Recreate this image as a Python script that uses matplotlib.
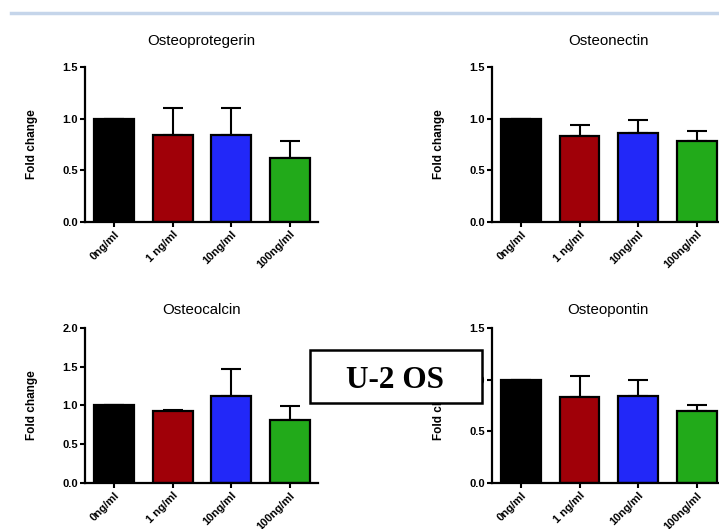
import matplotlib
matplotlib.use("Agg")
import matplotlib.pyplot as plt
from matplotlib.patches import Rectangle
from matplotlib.lines import Line2D

plt.rcParams['font.family'] = ['Liberation Sans', 'DejaVu Sans']

categories = ["0ng/ml", "1 ng/ml", "10ng/ml", "100ng/ml"]
colors = ["#000000", "#a00008", "#2228f8", "#22aa1a"]

titles = ["Osteoprotegerin", "Osteonectin", "Osteocalcin", "Osteopontin"]
opg_mean = [1.00, 0.84, 0.84, 0.62]
opg_err = [0.00, 0.26, 0.26, 0.16]
on_mean = [1.00, 0.835, 0.86, 0.78]
on_err = [0.00, 0.105, 0.13, 0.10]
oc_mean = [1.00, 0.93, 1.12, 0.82]
oc_err = [0.00, 0.01, 0.35, 0.17]
op_mean = [1.00, 0.835, 0.84, 0.70]
op_err = [0.00, 0.195, 0.16, 0.055]
y_max = [1.5, 1.5, 2.0, 1.5]
y_ticks = [[0, 0.5, 1.0, 1.5], [0, 0.5, 1.0, 1.5], [0, 0.5, 1.0, 1.5, 2.0], [0, 0.5, 1.0, 1.5]]

means = [opg_mean, on_mean, oc_mean, op_mean]
errs = [opg_err, on_err, oc_err, op_err]

W, H = 719, 529
fig = plt.figure(figsize=(W / 100, H / 100), dpi=100)


def rect(left, top, width, height):
    return [left / W, 1 - (top + height) / H, width / W, height / H]


panel_rects = [
    rect(85, 67, 233, 155),
    rect(491.7, 67, 233, 155),
    rect(85, 327.7, 233, 155.6),
    rect(491.7, 327.7, 233, 155.6),
]
title_pads = [16, 16, 10, 10]

for i in range(4):
    ax = fig.add_axes(panel_rects[i])
    x = list(range(len(categories)))
    ax.bar(x, means[i], width=0.68, color=colors, edgecolor="black",
           linewidth=1.6, zorder=2)
    ax.errorbar(x, means[i], yerr=[[0] * 4, errs[i]], fmt="none",
                ecolor="black", elinewidth=1.5, capsize=7.5, capthick=1.5,
                zorder=1)
    ax.set_xlim(-0.5, 3.48)
    ax.set_ylim(0, y_max[i])
    ax.set_yticks(y_ticks[i])
    ax.set_yticklabels([f"{t:.1f}" for t in y_ticks[i]])
    ax.set_xticks(x)
    ax.set_xticklabels(categories, rotation=45, ha="right", va="top",
                       rotation_mode="anchor")
    for sp in ["top", "right"]:
        ax.spines[sp].set_visible(False)
    for sp in ["left", "bottom"]:
        ax.spines[sp].set_linewidth(1.6)
    ax.tick_params(direction="out", length=3.5, width=1.5, labelsize=8,
                   pad=1.5)
    for lab in ax.get_xticklabels() + ax.get_yticklabels():
        lab.set_fontweight("bold")
    ax.set_title(titles[i], fontsize=10.8, pad=title_pads[i])
    ax.set_ylabel("Fold change", fontsize=8.5, fontweight="bold", va="center")
    ax.yaxis.set_label_coords(-53 / 233, 0.5)

# top decorative line
fig.add_artist(Line2D([11 / W, 1.0], [1 - 13 / H, 1 - 13 / H],
                      transform=fig.transFigure, color="#c5d5ea",
                      linewidth=2.5))

# U-2 OS label box
box = Rectangle((310 / W, 1 - 403 / H), (481.7 - 310) / W, (403 - 350) / H,
                transform=fig.transFigure, facecolor="white",
                edgecolor="black", linewidth=1.8, zorder=10)
fig.add_artist(box)
fig.text(395 / W, 1 - 381 / H, "U-2 OS", family="Liberation Serif",
         fontweight="bold", fontsize=22.5, ha="center", va="center", zorder=11)

fig.savefig("out.png", dpi=100)
